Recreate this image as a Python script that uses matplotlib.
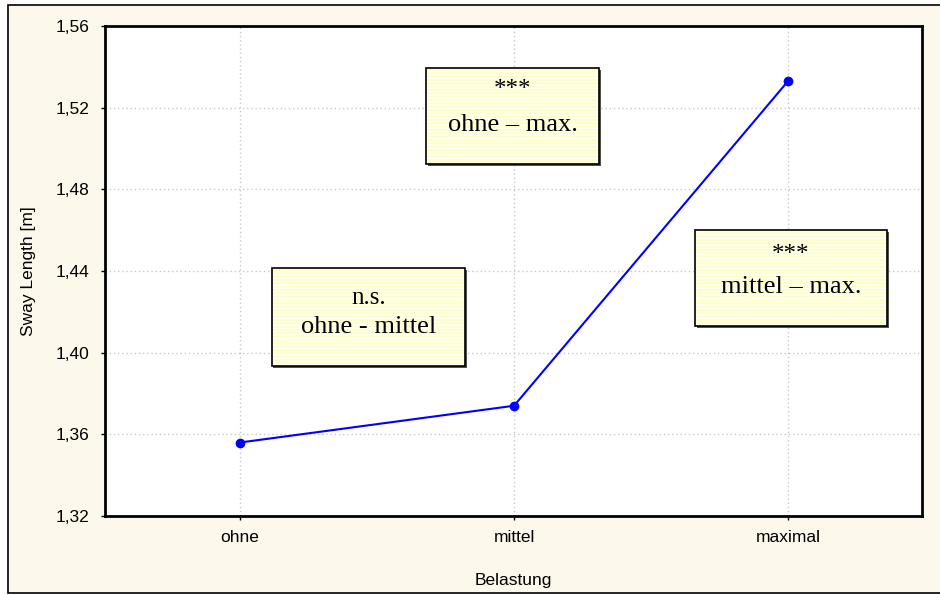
import matplotlib.pyplot as plt
from matplotlib.patches import Rectangle
from matplotlib.ticker import FuncFormatter

# mean sway length per load condition
belastung = ["ohne", "mittel", "maximal"]
sway = [1.356, 1.374, 1.533]
yticks = [1.32, 1.36, 1.40, 1.44, 1.48, 1.52, 1.56]

# significance notes (header, comparison)
notes = [("n.s.", "ohne - mittel"),
         ("***", "ohne \u2013 max."),
         ("***", "mittel \u2013 max.")]
# box extents in axes fraction: x0, y0, x1, y1
boxes = [(0.204, 0.306, 0.441, 0.506),
         (0.393, 0.718, 0.605, 0.914),
         (0.722, 0.388, 0.957, 0.584)]

W, H = 940, 595
fig = plt.figure(figsize=(W / 100, H / 100), dpi=100, facecolor="white")
plt.rcParams['font.family'] = ['Liberation Sans', 'DejaVu Sans']

# cream panel with a thin black frame
fig.patches.append(Rectangle((8 / W, 1 - 593 / H), 1.0, (593 - 5) / H,
                             transform=fig.transFigure, facecolor="#fdf8ec",
                             edgecolor="black", linewidth=1.2, zorder=-10))

ax = fig.add_axes([105 / W, 1 - 516 / H, (922 - 105) / W, (516 - 26) / H])
ax.set_facecolor("white")

x = range(len(belastung))
ax.plot(x, sway, color="#0000ff", linewidth=1.5, marker="o", markersize=6,
        zorder=5)

ax.set_xlim(-0.493, 2.489)
ax.set_ylim(1.32, 1.56)
ax.set_xticks(list(x))
ax.set_xticklabels(belastung)
ax.set_yticks(yticks)
ax.yaxis.set_major_formatter(FuncFormatter(lambda v, p: f"{v:.2f}".replace(".", ",")))
ax.tick_params(axis="both", labelsize=12.5, direction="out", length=3, width=1)
ax.tick_params(axis="x", pad=7)
ax.tick_params(axis="y", pad=8)
ax.grid(True, color="#c8c8c8", linestyle=(0, (1, 2)), linewidth=1)
for s in ax.spines.values():
    s.set_linewidth(2)
ax.set_xlabel("Belastung", fontsize=12.5, labelpad=20)
ax.set_ylabel("Sway Length [m]", fontsize=12.5, labelpad=14)

text_pos = [(0.69, 0.40), (0.77, 0.41), (0.74, 0.41)]
for (head, comp), (x0, y0, x1, y1), (ty1, ty2) in zip(notes, boxes, text_pos):
    # drop shadow
    ax.add_patch(Rectangle((x0 + 0.002, y0 - 0.004), x1 - x0, y1 - y0,
                           transform=ax.transAxes, facecolor="#505050",
                           edgecolor="none", zorder=6))
    ax.add_patch(Rectangle((x0, y0), x1 - x0, y1 - y0, transform=ax.transAxes,
                           facecolor="#ffffc4", edgecolor="none", zorder=7))
    ax.add_patch(Rectangle((x0, y0), x1 - x0, y1 - y0, transform=ax.transAxes,
                           facecolor="none", edgecolor="white", hatch="-----",
                           linewidth=0, zorder=7.5))
    ax.add_patch(Rectangle((x0, y0), x1 - x0, y1 - y0, transform=ax.transAxes,
                           facecolor="none", edgecolor="black",
                           linewidth=1.2, zorder=7.6))
    xc = (x0 + x1) / 2
    h = y1 - y0
    ax.text(xc, y0 + h * ty1, head, transform=ax.transAxes, ha="center",
            va="center", fontsize=18, family="Liberation Serif", zorder=8)
    ax.text(xc, y0 + h * ty2, comp, transform=ax.transAxes, ha="center",
            va="center", fontsize=19, family="Liberation Serif", zorder=8)

fig.savefig("out.png", dpi=100, facecolor=fig.get_facecolor())
